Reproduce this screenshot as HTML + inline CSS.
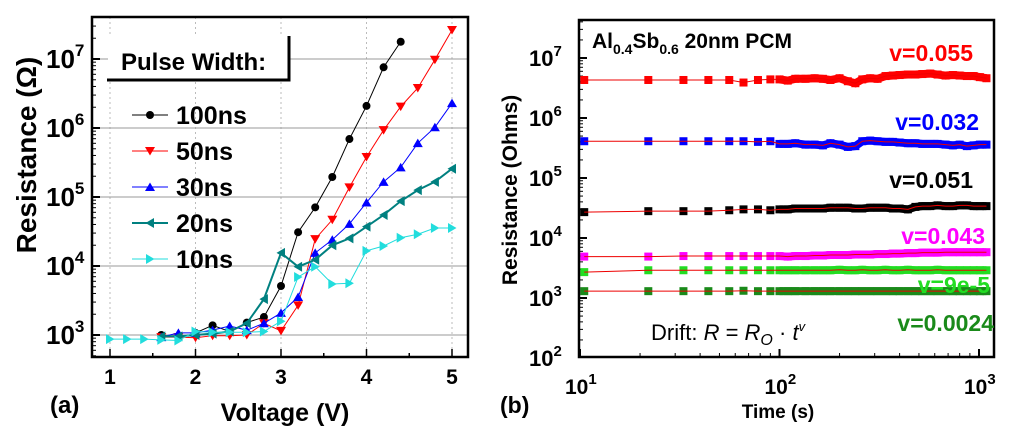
<!DOCTYPE html>
<html><head><meta charset="utf-8"><style>
body{margin:0;background:#fff;}
svg{display:block;font-family:"Liberation Sans",sans-serif;}
</style></head><body>
<svg id="fig" width="1021" height="430" viewBox="0 0 1021 430">
<g id="left"></g>
<g id="right"></g>
</svg>
<script>
// ---------- Panel (a) data ----------
const voltages = [1.0,1.2,1.4,1.6,1.8,2.0,2.2,2.4,2.6,2.8,3.0,3.2,3.4,3.6,3.8,4.0,4.2,4.4,4.6,4.8,5.0];
const seriesNames = ["100ns","50ns","30ns","20ns","10ns"];
const r100 = [null,null,null,3.0,2.96,3.03,3.14,3.05,3.18,3.26,3.71,4.49,4.85,5.29,5.84,6.32,6.88,7.25,null,null,null];
const r50 = [null,null,null,2.97,2.97,2.96,2.99,2.99,3.0,3.17,3.06,3.43,4.39,4.67,5.14,5.58,5.97,6.31,6.58,6.99,7.42];
const r30 = [null,null,null,2.97,3.03,3.03,3.07,3.13,3.07,3.17,3.32,3.55,4.19,4.38,4.61,4.92,5.22,5.43,5.78,6.01,6.36];
const r20 = [null,null,null,2.98,2.98,3.0,3.02,3.05,3.17,3.52,4.19,3.99,4.09,4.30,4.40,4.57,4.74,4.94,5.10,5.22,5.41];
const r10 = [2.94,2.94,2.94,2.93,2.92,3.05,3.04,3.04,3.04,3.05,3.20,3.84,3.99,3.74,3.75,4.22,4.29,4.41,4.46,4.55,4.55];
const voltTicks = [1,2,3,4,5];
const decadeTicksA = [3,4,5,6,7];

// ---------- Panel (b) data ----------
const times = [10.5,22,33,44,56,66,78,90,100,110,120,135,150,165,180,200,220,240,260,285,310,340,370,400,440,480,520,570,620,680,740,800,870,940,1010,1090];
const redR = [4.3,4.3,4.3,4.3,4.3,3.9,4.3,4.4,4.4,4.2,4.5,4.5,4.6,4.5,4.3,4.6,4.1,3.8,4.4,4.6,4.5,5.0,5.1,5.2,5.3,5.3,5.4,5.5,5.3,5.1,5.2,5.1,5.0,5.0,4.8,4.6]; // x1e6
const blueR = [4.1,4.1,4.1,4.1,4.1,4.1,4.0,4.1,3.7,3.7,3.8,3.6,3.6,3.5,3.8,3.6,3.3,3.4,4.1,4.2,4.1,4.0,4.0,3.9,3.8,3.8,3.7,3.7,3.7,3.6,3.5,3.6,3.4,3.5,3.6,3.6]; // x1e5
const blackR = [2.7,2.8,2.8,2.8,2.9,3.0,3.0,2.9,3.0,3.0,3.1,3.1,3.1,3.1,3.2,3.2,3.2,3.1,3.1,3.2,3.2,3.2,3.1,3.1,3.0,3.3,3.4,3.4,3.5,3.4,3.4,3.5,3.5,3.4,3.4,3.4]; // x1e4
const magR = [4.9,4.9,5.0,5.0,5.0,5.0,5.0,5.0,5.0,4.9,5.0,5.0,5.1,5.1,5.2,5.2,5.2,5.3,5.3,5.3,5.4,5.4,5.5,5.5,5.6,5.6,5.7,5.7,5.7,5.8,5.8,5.8,5.8,5.8,5.8,5.8]; // x1e3
const lgreenR = [2.7,2.9,2.9,2.9,2.9,2.9,2.9,2.9,2.9,2.9,2.9,2.9,2.9,2.9,2.9,2.95,2.9,2.9,2.95,2.9,2.9,2.95,2.9,2.9,2.95,2.9,2.9,2.9,2.95,2.9,2.9,2.9,2.9,2.9,2.9,2.9]; // x1e3
const dgreenR = [1.3,1.3,1.3,1.3,1.3,1.32,1.3,1.3,1.3,1.3,1.3,1.3,1.3,1.3,1.3,1.3,1.3,1.3,1.3,1.3,1.3,1.3,1.3,1.3,1.3,1.3,1.3,1.3,1.3,1.3,1.3,1.3,1.3,1.3,1.3,1.3]; // x1e3
const driftLabels = ["v=0.055","v=0.032","v=0.051","v=0.043","v=9e-5","v=0.0024"];
const timeTicks = [1,2,3];
const decadeTicksB = [2,3,4,5,6,7];

const NS="http://www.w3.org/2000/svg";
function mk(parent,tag,attrs,text){const e=document.createElementNS(NS,tag);for(const k in attrs)e.setAttribute(k,attrs[k]);if(text!==undefined)e.textContent=text;parent.appendChild(e);return e;}

// ---------- Panel (a) ----------
const L=document.getElementById('left');
const ax=v=>110+(v-1)*85.5;
const ay=l=>335-(l-3)*69;
voltTicks.forEach(v=>{const g=mk(L,'line',{x1:ax(v),x2:ax(v),y1:17,y2:357,stroke:'#bbb','stroke-dasharray':'2,3'});

});
decadeTicksA.forEach(d=>{const g=mk(L,'line',{x1:92,x2:468,y1:ay(d),y2:ay(d),stroke:'#999','stroke-width':1});

});
for(let d=2;d<=7;d++){for(let m=2;m<=9;m++){const l=d+Math.log10(m);const y=ay(l);if(y<18||y>356)continue;
const t=mk(L,'line',{x1:92,x2:96,y1:y,y2:y,stroke:'#000','stroke-width':1});

}}
decadeTicksA.forEach(d=>{const t=mk(L,'line',{x1:92,x2:100,y1:ay(d),y2:ay(d),stroke:'#000','stroke-width':2});


const lb=mk(L,'text',{x:46,y:ay(d)+9,'font-size':26,'font-weight':'bold'});


lb.innerHTML='10<tspan dy="-12" font-size="17">'+d+'</tspan>';});
for(let v=1;v<=5;v+=0.5){const t=mk(L,'line',{x1:ax(v),x2:ax(v),y1:357,y2:Number.isInteger(v)?349:353,stroke:'#000','stroke-width':1.5});

}
voltTicks.forEach(v=>{const lb=mk(L,'text',{x:ax(v),y:384,'font-size':21,'font-weight':'bold','text-anchor':'middle'},String(v));

});
const colorsA=['#000','#f00','#00f','#008080','#22dddd'];
const dataA=[r100,r50,r30,r20,r10];
function marker(g,shape,x,y,c,s){let e;
 if(shape==='circle')e=mk(g,'circle',{cx:x,cy:y,r:s*0.8,fill:c});
 else if(shape==='down')e=mk(g,'polygon',{points:`${x-s},${y-s*0.8} ${x+s},${y-s*0.8} ${x},${y+s*0.9}`,fill:c});
 else if(shape==='up')e=mk(g,'polygon',{points:`${x-s},${y+s*0.8} ${x+s},${y+s*0.8} ${x},${y-s*0.9}`,fill:c});
 else if(shape==='left')e=mk(g,'polygon',{points:`${x+s*0.8},${y-s} ${x+s*0.8},${y+s} ${x-s*0.9},${y}`,fill:c});
 else if(shape==='right')e=mk(g,'polygon',{points:`${x-s*0.8},${y-s} ${x-s*0.8},${y+s} ${x+s*0.9},${y}`,fill:c});
 else e=mk(g,'rect',{x:x-s,y:y-s,width:2*s,height:2*s,fill:c});
 return e;}
const shapes=['circle','down','up','left','right'];
dataA.forEach((arr,i)=>{const g=mk(L,'g',{});


const pts=[];arr.forEach((r,j)=>{if(r!==null)pts.push([ax(voltages[j]),ay(r)]);});
const pl=mk(g,'polyline',{points:pts.map(p=>p.join(',')).join(' '),fill:'none',stroke:colorsA[i],'stroke-width':i===3?2:1});


pts.forEach(p=>{const m=marker(g,shapes[i],p[0],p[1],colorsA[i],5);

});});
const fa=mk(L,'rect',{x:92,y:17,width:376,height:340,fill:'none',stroke:'#000','stroke-width':2.5});


const lg=mk(L,'g',{});


const lbx=mk(lg,'rect',{x:108,y:36,width:180,height:45,fill:'#fff',stroke:'none'});


mk(lg,'polyline',{points:'107,80 289,80 289,36',fill:'none',stroke:'#000','stroke-width':3});
const lt=mk(lg,'text',{x:121,y:70,'font-size':24,'font-weight':'bold'},'Pulse Width:');


seriesNames.forEach((n,i)=>{const y=115+i*36;const e=mk(lg,'g',{});


mk(e,'line',{x1:132,x2:168,y1:y,y2:y,stroke:colorsA[i],'stroke-width':i===3?2:1});
marker(e,shapes[i],150,y,colorsA[i],5);
mk(e,'text',{x:176,y:y+9,'font-size':25,'font-weight':'bold'},n);});
const yla=mk(L,'text',{transform:'translate(36,155) rotate(-90)','font-size':28,'font-weight':'bold','text-anchor':'middle'},'Resistance (Ω)');


const xla=mk(L,'text',{x:285,y:421,'font-size':25,'font-weight':'bold','text-anchor':'middle'},'Voltage (V)');


const pa=mk(L,'text',{x:50,y:413,'font-size':24,'font-weight':'bold'},'(a)');



// ---------- Panel (b) ----------
const R=document.getElementById('right');
const bx=t=>580+(Math.log10(t)-1)*199.5;
const by=l=>298-(l-3)*60;
for(let d=1;d<=3;d++){for(let m=1;m<=9;m++){const t=Math.pow(10,d)*m;const x=bx(t);if(x<579||x>994)continue;
const tk=mk(R,'line',{x1:x,x2:x,y1:357,y2:m===1?349:353,stroke:'#000','stroke-width':m===1?2:1});

}}
timeTicks.forEach(d=>{const lb=mk(R,'text',{x:bx(Math.pow(10,d))-15,y:394,'font-size':21,'font-weight':'bold'});


lb.innerHTML='10<tspan dy="-10" font-size="15">'+d+'</tspan>';});
for(let d=1;d<=7;d++){for(let m=1;m<=9;m++){const l=d+Math.log10(m);const y=by(l);if(y<20||y>357)continue;
const tk=mk(R,'line',{x1:579,x2:m===1?587:583,y1:y,y2:y,stroke:'#000','stroke-width':m===1?2:1});

}}
decadeTicksB.forEach(d=>{const lb=mk(R,'text',{x:529,y:by(d)+8,'font-size':22,'font-weight':'bold'});


lb.innerHTML='10<tspan dy="-10" font-size="15">'+d+'</tspan>';});
const colorsB=['#f00','#00f','#000','#f0f','#22dd22','#1a8a1a'];
const scales=[1e6,1e5,1e4,1e3,1e3,1e3];
const dataB=[redR,blueR,blackR,magR,lgreenR,dgreenR];
dataB.forEach((arr,i)=>{const g=mk(R,'g',{});


const pts=arr.map((v,j)=>[bx(times[j]),by(Math.log10(v*scales[i]))]);
pts.forEach(p=>{const m=mk(g,'rect',{x:p[0]-4,y:p[1]-4,width:8,height:8,fill:colorsB[i]});

});
const dense=pts.filter((p,j)=>times[j]>=100);
const thick=mk(g,'polyline',{points:dense.map(p=>p.join(',')).join(' '),fill:'none',stroke:colorsB[i],'stroke-width':8});


const fit=mk(g,'polyline',{points:pts.map(p=>p.join(',')).join(' '),fill:'none',stroke:'#e00','stroke-width':1});

});
const fb=mk(R,'rect',{x:579,y:20,width:415,height:337,fill:'none',stroke:'#000','stroke-width':2.5});


const labY=[61,130,188,244,293,331];const labX=[973,979,973,985,990,994];
driftLabels.forEach((s,i)=>{const t=mk(R,'text',{x:labX[i],y:labY[i],'font-size':23,'font-weight':'bold','text-anchor':'end',fill:colorsB[i]},s);

});
const tt=mk(R,'text',{x:592,y:48,'font-size':21,'font-weight':'bold'});


tt.innerHTML='Al<tspan dy="6" font-size="14">0.4</tspan><tspan dy="-6">Sb</tspan><tspan dy="6" font-size="14">0.6</tspan><tspan dy="-6">  20nm PCM</tspan>';
const dr=mk(R,'text',{x:651,y:340,'font-size':22});


dr.innerHTML='Drift: <tspan font-style="italic">R</tspan> = <tspan font-style="italic">R</tspan><tspan dy="5" font-size="16" font-style="italic">O</tspan><tspan dy="-5"> · </tspan><tspan font-style="italic">t</tspan><tspan dy="-9" font-size="13" font-style="italic">v</tspan>';
const ylb=mk(R,'text',{transform:'translate(517,190) rotate(-90)','font-size':21,'font-weight':'bold','text-anchor':'middle'},'Resistance (Ohms)');


const xlb=mk(R,'text',{x:778,y:418,'font-size':19,'font-weight':'bold','text-anchor':'middle'},'Time (s)');


const pb=mk(R,'text',{x:500,y:413,'font-size':23,'font-weight':'bold'},'(b)');


</script>
</body></html>
